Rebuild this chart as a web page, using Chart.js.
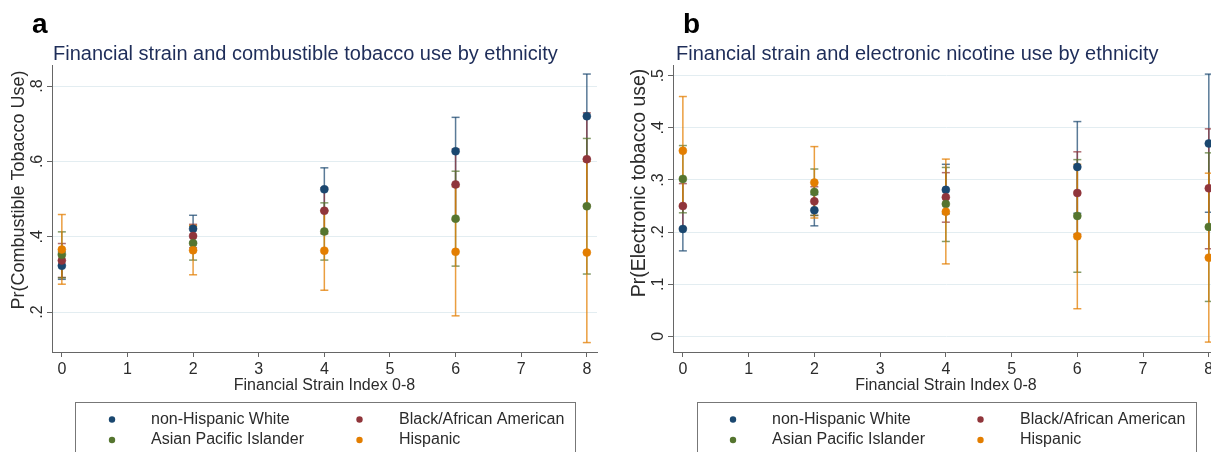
<!DOCTYPE html>
<html>
<head>
<meta charset="utf-8">
<script src="https://cdn.jsdelivr.net/npm/chart.js@4.4.1/dist/chart.umd.min.js"></script>
<style>
  html, body { margin: 0; padding: 0; background: #ffffff; overflow: hidden; width: 1211px; height: 452px; }
  #ca { position: absolute; left: 0; top: 0; }
  #cb { position: absolute; left: 621px; top: 0; }
</style>
</head>
<body>
<canvas id="ca" width="610" height="452"></canvas>
<canvas id="cb" width="610" height="452"></canvas>
<script>
// ---------------- data ----------------
const strainIndex = [0, 2, 4, 6, 8];
const xTicks = [0, 1, 2, 3, 4, 5, 6, 7, 8];
const yTicksA = [0.2, 0.4, 0.6, 0.8];
const yTicksB = [0, 0.1, 0.2, 0.3, 0.4, 0.5];
const seriesNames = ['non-Hispanic White', 'Black/African American', 'Asian Pacific Islander', 'Hispanic'];

// Panel a: Pr(Combustible Tobacco Use)
const combWhite   = [0.323, 0.421, 0.526, 0.627, 0.720];
const combWhiteLo = [0.287, 0.386, 0.470, 0.538, 0.607];
const combWhiteHi = [0.360, 0.457, 0.583, 0.717, 0.832];
const combBlack   = [0.337, 0.402, 0.469, 0.539, 0.606];
const combBlackLo = [0.292, 0.371, 0.408, 0.445, 0.484];
const combBlackHi = [0.382, 0.433, 0.530, 0.633, 0.729];
const combAsian   = [0.352, 0.383, 0.414, 0.448, 0.481];
const combAsianLo = [0.291, 0.338, 0.338, 0.322, 0.301];
const combAsianHi = [0.413, 0.428, 0.490, 0.574, 0.661];
const combHisp    = [0.366, 0.364, 0.363, 0.360, 0.358];
const combHispLo  = [0.274, 0.299, 0.258, 0.190, 0.119];
const combHispHi  = [0.459, 0.430, 0.468, 0.533, 0.600];

// Panel b: Pr(Electronic tobacco use)
const elecWhite   = [0.206, 0.242, 0.281, 0.325, 0.370];
const elecWhiteLo = [0.164, 0.212, 0.235, 0.236, 0.238];
const elecWhiteHi = [0.249, 0.272, 0.330, 0.412, 0.503];
const elecBlack   = [0.250, 0.259, 0.267, 0.275, 0.284];
const elecBlackLo = [0.208, 0.232, 0.219, 0.196, 0.168];
const elecBlackHi = [0.293, 0.287, 0.314, 0.354, 0.398];
const elecAsian   = [0.302, 0.277, 0.254, 0.231, 0.210];
const elecAsianLo = [0.237, 0.232, 0.182, 0.123, 0.067];
const elecAsianHi = [0.366, 0.321, 0.324, 0.339, 0.352];
const elecHisp    = [0.356, 0.295, 0.239, 0.192, 0.151];
const elecHispLo  = [0.252, 0.227, 0.139, 0.053, -0.011];
const elecHispHi  = [0.460, 0.364, 0.340, 0.330, 0.313];

// ---------------- styles ----------------
const markerColors = ['#1a476f', '#90353b', '#55752f', '#e37e00'];
const barColors = ['rgba(26,71,111,0.72)', 'rgba(144,53,59,0.72)', 'rgba(85,117,47,0.72)', 'rgba(227,126,0,0.75)'];
const FONT = '"Liberation Sans", Arial, Helvetica, sans-serif';
Chart.defaults.font.family = FONT;

function errData(lo, hi) {
  const out = [];
  strainIndex.forEach((x, i) => {
    out.push({ x: x, y: lo[i] }, { x: x, y: hi[i] }, { x: x, y: null });
  });
  return out;
}

function buildDatasets(series) {
  const ds = [];
  series.forEach((s, k) => {
    ds.push({
      type: 'line',
      label: s.name + ' 95% CI',
      data: errData(s.lo, s.hi),
      borderColor: barColors[k],
      borderWidth: 1.5,
      pointStyle: 'line',
      pointRadius: 4,
      pointHoverRadius: 4,
      pointBorderColor: barColors[k],
      pointBorderWidth: 1.5,
      spanGaps: false,
      fill: false,
      order: 8 - k
    });
  });
  series.forEach((s, k) => {
    ds.push({
      type: 'line',
      label: s.name,
      data: strainIndex.map((x, i) => ({ x: x, y: s.est[i] })),
      showLine: false,
      pointStyle: 'circle',
      pointRadius: 4,
      pointHoverRadius: 4,
      pointBackgroundColor: markerColors[k],
      pointBorderColor: markerColors[k],
      pointBorderWidth: 0.5,
      order: 4 - k
    });
  });
  return ds;
}

const panelText = {
  id: 'panelText',
  afterDraw(chart, args, o) {
    const ctx = chart.ctx;
    ctx.save();
    // panel letter
    ctx.fillStyle = '#000000';
    ctx.textAlign = 'left';
    ctx.textBaseline = 'alphabetic';
    ctx.font = 'bold 28px ' + FONT;
    ctx.fillText(o.letter, o.letterX, 33);
    // title
    ctx.fillStyle = '#1e2d59';
    ctx.font = '20px ' + FONT;
    ctx.fillText(o.title, o.titleX, 60);
    // y axis title
    ctx.save();
    ctx.translate(o.yTitleX, o.yTitleY);
    ctx.rotate(-Math.PI / 2);
    ctx.textAlign = 'center';
    ctx.textBaseline = 'middle';
    ctx.fillStyle = '#2b2b2b';
    ctx.font = o.yTitleSize + 'px ' + FONT;
    ctx.fillText(o.yTitle, 0, 0);
    ctx.restore();
    // legend box
    ctx.strokeStyle = '#777777';
    ctx.lineWidth = 1;
    ctx.strokeRect(o.legL + 0.5, 402.5, o.legR - o.legL, 80);
    const dotX = [112, 359.5];
    const textX = [151, 399];
    const rowY = [419.5, 440];
    ctx.font = '16px ' + FONT;
    ctx.textBaseline = 'middle';
    ctx.textAlign = 'left';
    seriesNames.forEach((name, i) => {
      const col = i % 2, row = Math.floor(i / 2);
      ctx.fillStyle = markerColors[i];
      ctx.beginPath();
      ctx.arc(dotX[col], rowY[row], 3.2, 0, Math.PI * 2);
      ctx.fill();
      ctx.fillStyle = '#2b2b2b';
      ctx.fillText(name, textX[col], rowY[row]);
    });
    ctx.restore();
  }
};

function makeChart(id, series, yMin, yMax, yTicks, text, padRight) {
  return new Chart(document.getElementById(id), {
    type: 'line',
    data: { datasets: buildDatasets(series) },
    plugins: [panelText],
    options: {
      responsive: false,
      animation: false,
      events: [],
      devicePixelRatio: 1,
      layout: { padding: { left: 0, top: 65, right: padRight, bottom: 50 } },
      plugins: {
        legend: { display: false },
        tooltip: { enabled: false },
        title: { display: false },
        panelText: text
      },
      scales: {
        x: {
          type: 'linear',
          min: -0.15,
          max: 8.155,
          afterBuildTicks: s => { s.ticks = xTicks.map(v => ({ value: v })); },
          afterFit: s => { s.height = 50; },
          grid: { drawOnChartArea: false, drawTicks: true, tickLength: 5, tickColor: '#666666', tickWidth: 1 },
          border: { display: true, color: '#666666', width: 1 },
          ticks: { padding: 3, color: '#2b2b2b', font: { size: 16 }, maxRotation: 0, minRotation: 0, autoSkip: false },
          title: { display: true, text: 'Financial Strain Index 0-8', color: '#2b2b2b', font: { size: 16 }, padding: { top: 0, bottom: 6.5 } }
        },
        y: {
          type: 'linear',
          min: yMin,
          max: yMax,
          afterBuildTicks: s => { s.ticks = yTicks.map(v => ({ value: v })); },
          afterFit: s => { s.width = 52; },
          grid: { color: '#e3edf1', lineWidth: 1, drawTicks: true, tickLength: 5, tickColor: '#666666', tickWidth: 1 },
          border: { display: true, color: '#666666', width: 1 },
          ticks: {
            padding: 3,
            color: '#2b2b2b',
            font: { size: 16 },
            minRotation: 90,
            maxRotation: 90,
            crossAlign: 'center',
            autoSkip: false,
            callback: v => (v === 0 ? '0' : String(Number(v.toFixed(2))).replace(/^0\./, '.'))
          }
        }
      }
    }
  });
}

const seriesA = [
  { name: seriesNames[0], est: combWhite, lo: combWhiteLo, hi: combWhiteHi },
  { name: seriesNames[1], est: combBlack, lo: combBlackLo, hi: combBlackHi },
  { name: seriesNames[2], est: combAsian, lo: combAsianLo, hi: combAsianHi },
  { name: seriesNames[3], est: combHisp,  lo: combHispLo,  hi: combHispHi }
];
const seriesB = [
  { name: seriesNames[0], est: elecWhite, lo: elecWhiteLo, hi: elecWhiteHi },
  { name: seriesNames[1], est: elecBlack, lo: elecBlackLo, hi: elecBlackHi },
  { name: seriesNames[2], est: elecAsian, lo: elecAsianLo, hi: elecAsianHi },
  { name: seriesNames[3], est: elecHisp,  lo: elecHispLo,  hi: elecHispHi }
];

makeChart('ca', seriesA, 0.094, 0.856, yTicksA, {
  letter: 'a', letterX: 32,
  title: 'Financial strain and combustible tobacco use by ethnicity', titleX: 53,
  yTitle: 'Pr(Combustible Tobacco Use)', yTitleX: 19, yTitleY: 190, yTitleSize: 18,
  legL: 75, legR: 575
}, 13);

makeChart('cb', seriesB, -0.030, 0.5205, yTicksB, {
  letter: 'b', letterX: 62,
  title: 'Financial strain and electronic nicotine use by ethnicity', titleX: 55,
  yTitle: 'Pr(Electronic tobacco use)', yTitleX: 19, yTitleY: 183, yTitleSize: 19.5,
  legL: 76, legR: 575
}, 12);
</script>
</body>
</html>
